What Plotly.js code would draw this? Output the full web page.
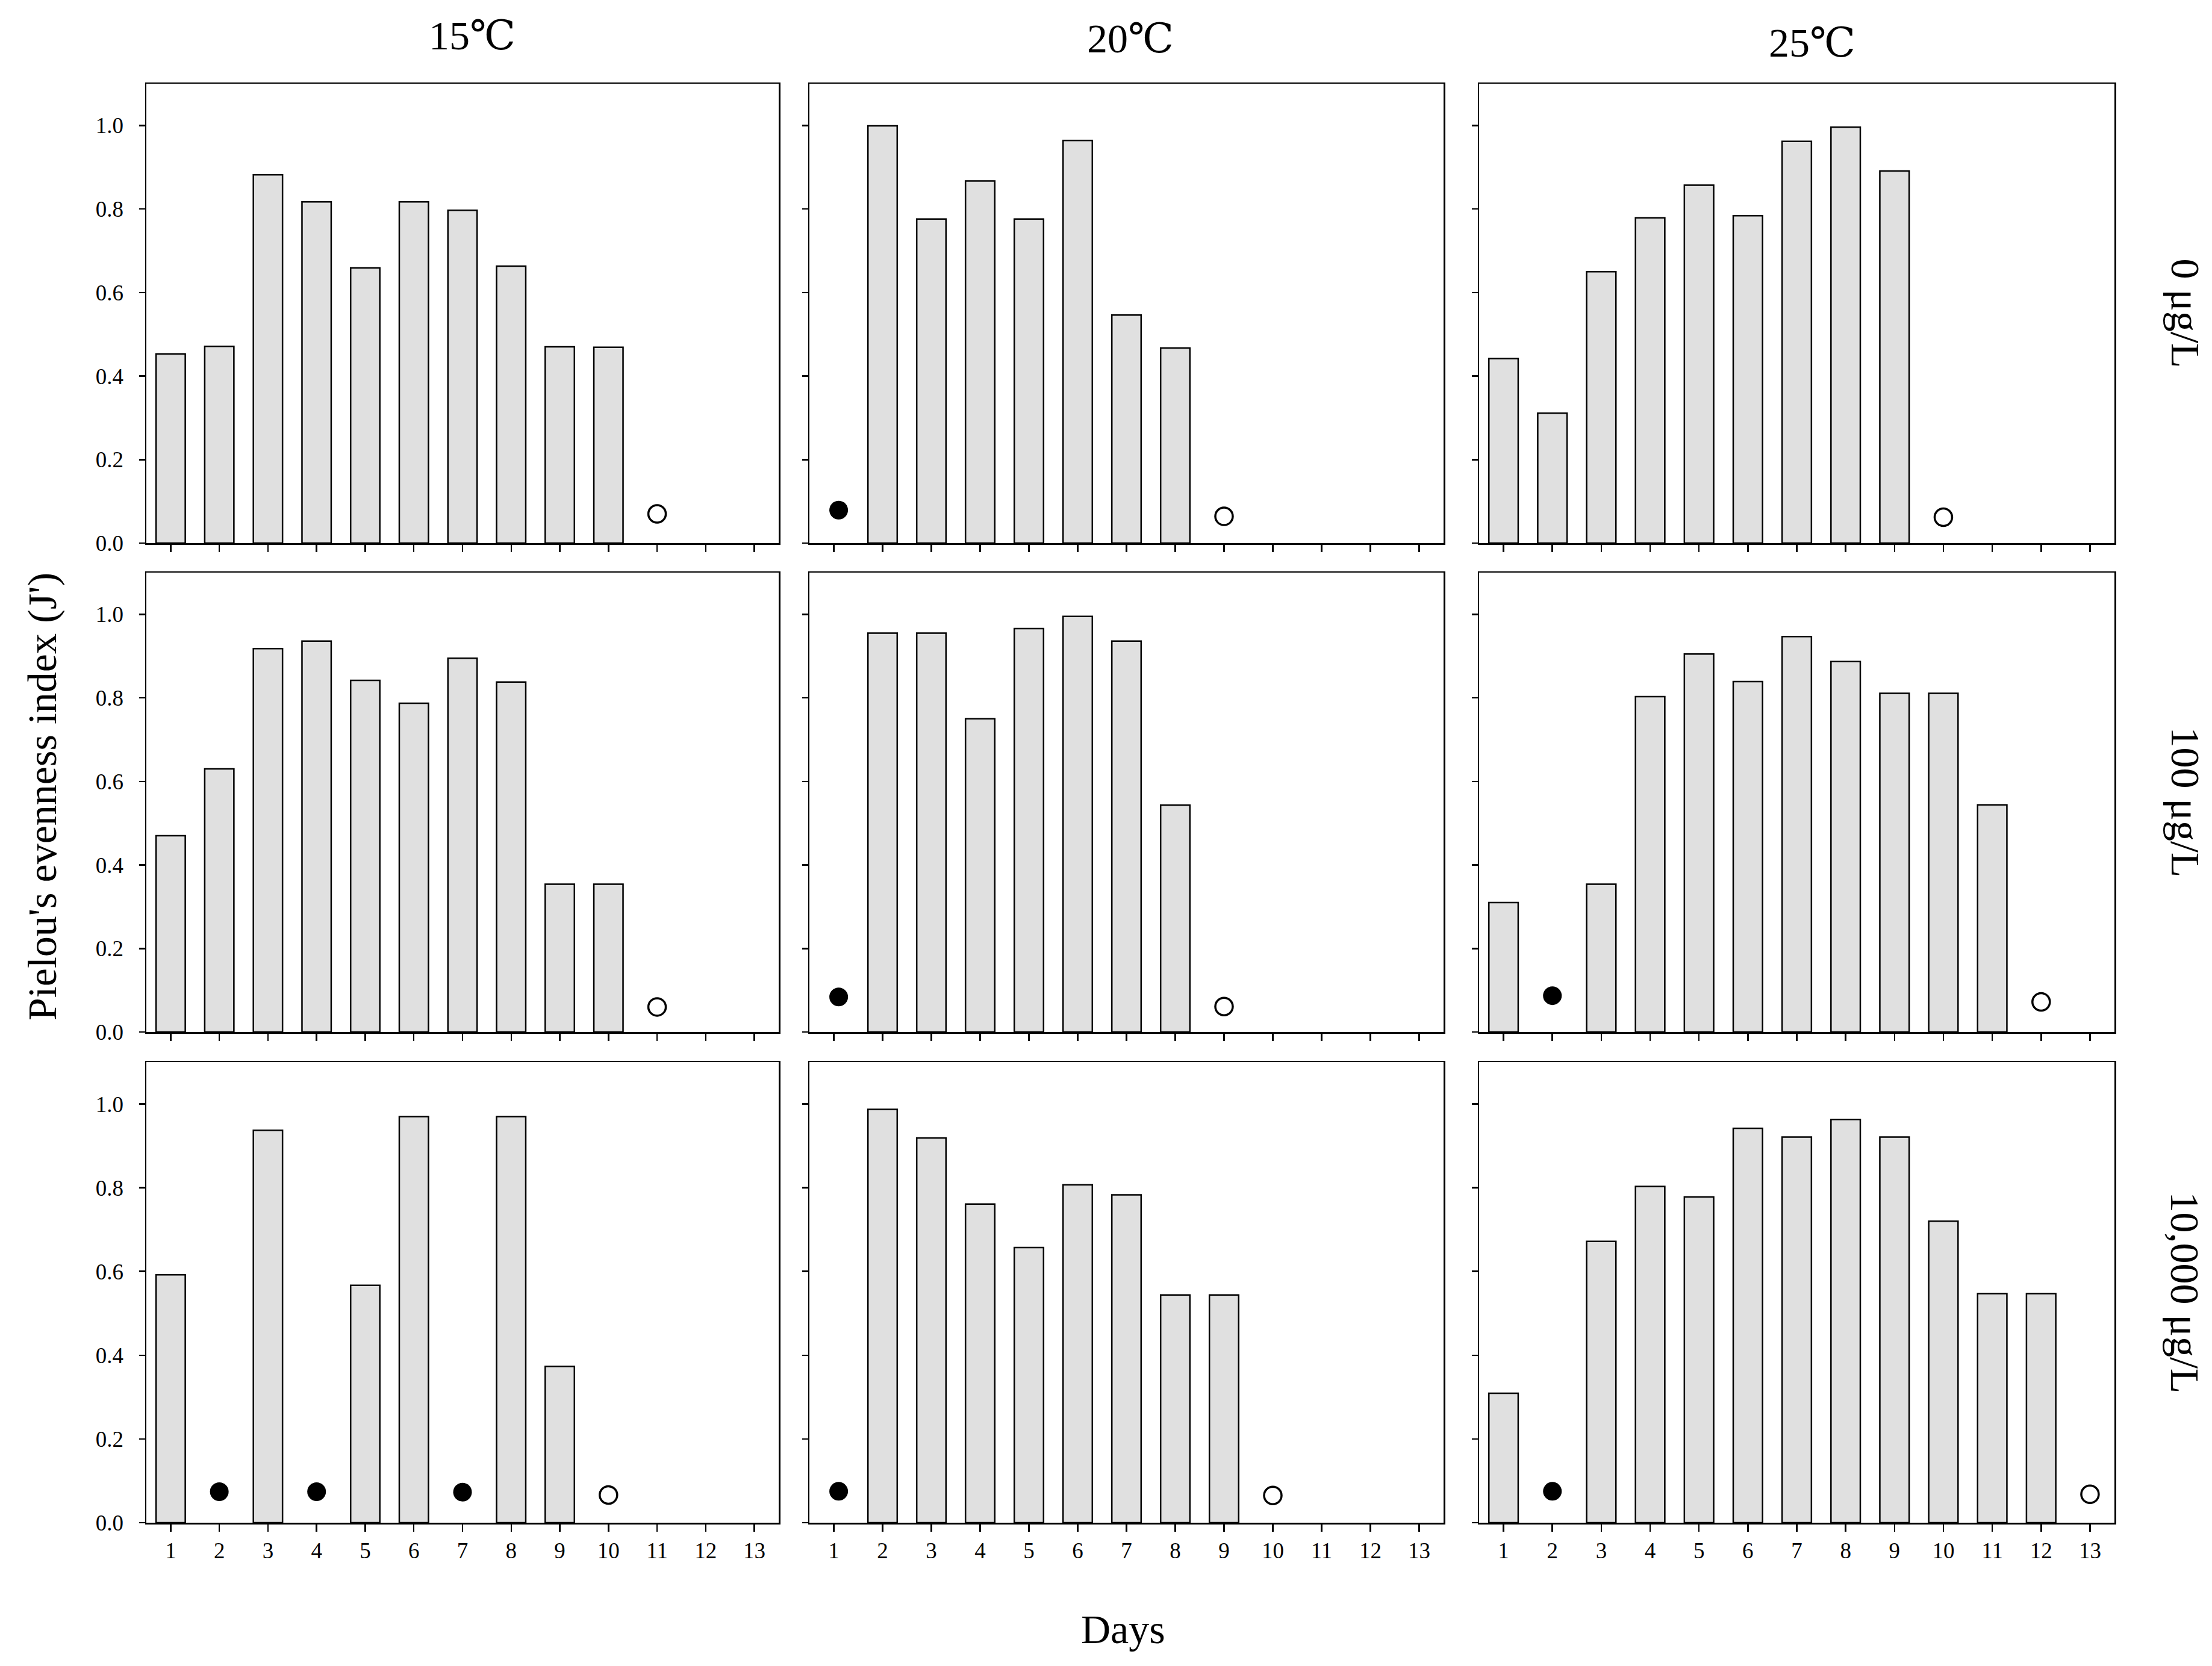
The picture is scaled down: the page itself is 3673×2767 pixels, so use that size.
<!DOCTYPE html>
<html><head><meta charset="utf-8">
<script src="https://cdn.plot.ly/plotly-3.0.1.min.js"></script>
<style>html,body{margin:0;padding:0;background:#fff}</style>
</head><body><div id="chart" style="width:3673px;height:2767px"></div>
<script>
// ---- data ----
const days = [1,2,3,4,5,6,7,8,9,10,11,12,13];
const dayLabels = ['1','2','3','4','5','6','7','8','9','10','11','12','13'];
const yTicks = [0,0.2,0.4,0.6,0.8,1.0];
const yTickLabels = ['0.0','0.2','0.4','0.6','0.8','1.0'];
const temperatures = ['15\u2103','20\u2103','25\u2103'];
const concentrations = ['0 \u03bcg/L','100 \u03bcg/L','10,000 \u03bcg/L'];

// bar values (J'), null = no bar
const bars_15C_0     = [0.453,0.471,0.882,0.817,0.659,0.817,0.797,0.663,0.470,0.469,null,null,null];
const bars_20C_0     = [null,0.999,0.776,0.867,0.776,0.964,0.546,0.467,null,null,null,null,null];
const bars_25C_0     = [0.442,0.311,0.650,0.779,0.857,0.784,0.962,0.996,0.891,null,null,null,null];
const bars_15C_100   = [0.470,0.630,0.918,0.936,0.842,0.787,0.895,0.838,0.354,0.354,null,null,null];
const bars_20C_100   = [null,0.955,0.955,0.750,0.966,0.995,0.936,0.543,null,null,null,null,null];
const bars_25C_100   = [0.310,null,0.354,0.803,0.905,0.839,0.947,0.887,0.811,0.811,0.544,null,null];
const bars_15C_10000 = [0.592,null,0.937,null,0.567,0.970,null,0.970,0.373,null,null,null,null];
const bars_20C_10000 = [null,0.987,0.919,0.761,0.657,0.807,0.783,0.544,0.544,null,null,null,null];
const bars_25C_10000 = [0.309,null,0.672,0.803,0.778,0.942,0.921,0.963,0.921,0.720,0.547,0.547,null];

// filled dots (day, value)
const filledX_15C_0 = [],  filledY_15C_0 = [];
const filledX_20C_0 = [1.1], filledY_20C_0 = [0.079];
const filledX_25C_0 = [],  filledY_25C_0 = [];
const filledX_15C_100 = [], filledY_15C_100 = [];
const filledX_20C_100 = [1.1], filledY_20C_100 = [0.084];
const filledX_25C_100 = [2], filledY_25C_100 = [0.087];
const filledX_15C_10000 = [2,4,7], filledY_15C_10000 = [0.074,0.074,0.073];
const filledX_20C_10000 = [1.1], filledY_20C_10000 = [0.075];
const filledX_25C_10000 = [2], filledY_25C_10000 = [0.075];

// open dots (day, value)
const openX_15C_0 = [11], openY_15C_0 = [0.070];
const openX_20C_0 = [9],  openY_20C_0 = [0.064];
const openX_25C_0 = [10], openY_25C_0 = [0.062];
const openX_15C_100 = [11], openY_15C_100 = [0.060];
const openX_20C_100 = [9],  openY_20C_100 = [0.061];
const openX_25C_100 = [12], openY_25C_100 = [0.072];
const openX_15C_10000 = [10], openY_15C_10000 = [0.066];
const openX_20C_10000 = [10], openY_20C_10000 = [0.065];
const openX_25C_10000 = [13], openY_25C_10000 = [0.068];

// ---- panel table (row-major) ----
const panels = [
  [bars_15C_0, filledX_15C_0, filledY_15C_0, openX_15C_0, openY_15C_0],
  [bars_20C_0, filledX_20C_0, filledY_20C_0, openX_20C_0, openY_20C_0],
  [bars_25C_0, filledX_25C_0, filledY_25C_0, openX_25C_0, openY_25C_0],
  [bars_15C_100, filledX_15C_100, filledY_15C_100, openX_15C_100, openY_15C_100],
  [bars_20C_100, filledX_20C_100, filledY_20C_100, openX_20C_100, openY_20C_100],
  [bars_25C_100, filledX_25C_100, filledY_25C_100, openX_25C_100, openY_25C_100],
  [bars_15C_10000, filledX_15C_10000, filledY_15C_10000, openX_15C_10000, openY_15C_10000],
  [bars_20C_10000, filledX_20C_10000, filledY_20C_10000, openX_20C_10000, openY_20C_10000],
  [bars_25C_10000, filledX_25C_10000, filledY_25C_10000, openX_25C_10000, openY_25C_10000]
];

const W = 3673, H = 2767;
const FONT = '"Times New Roman", "Liberation Serif", "DejaVu Serif", serif';
const colPx = [[243,1293],[1344,2397],[2456,3511]];
const rowPx = [[139,902],[951,1714],[1764,2529]];

const traces = [];
const layout = {
  width: W, height: H,
  margin: {l:0, r:0, t:0, b:0},
  paper_bgcolor: '#fff', plot_bgcolor: '#fff',
  showlegend: false,
  bargap: 0,
  font: {family: FONT, color: '#000'},
  annotations: []
};

panels.forEach((p, i) => {
  const r = Math.floor(i/3), c = i % 3;
  const s = i === 0 ? '' : String(i+1);
  const xa = 'x' + s, ya = 'y' + s;
  traces.push({
    type: 'bar', x: days, y: p[0], xaxis: xa, yaxis: ya, width: 0.6,
    marker: {color: '#e0e0e0', line: {color: '#000', width: 2.5}},
    hoverinfo: 'none'
  });
  traces.push({
    type: 'scatter', mode: 'markers', x: p[1], y: p[2], xaxis: xa, yaxis: ya,
    marker: {size: 31, color: '#000', symbol: 'circle'}, hoverinfo: 'none', cliponaxis: false
  });
  traces.push({
    type: 'scatter', mode: 'markers', x: p[3], y: p[4], xaxis: xa, yaxis: ya,
    marker: {size: 29, color: '#fff', symbol: 'circle', line: {color: '#000', width: 3.5}},
    hoverinfo: 'none', cliponaxis: false
  });
  layout['xaxis' + s] = {
    domain: [colPx[c][0]/W, colPx[c][1]/W],
    anchor: ya, range: [0.5, 13.5],
    tickmode: 'array', tickvals: days, ticktext: dayLabels,
    showticklabels: r === 2,
    ticks: 'outside', ticklen: 12, tickwidth: 2.5, tickcolor: '#000',
    showline: true, mirror: true, linecolor: '#000', linewidth: 2.5,
    showgrid: false, zeroline: false,
    tickfont: {family: FONT, size: 37, color: '#000'},
    fixedrange: true
  };
  layout['yaxis' + s] = {
    domain: [1 - rowPx[r][1]/H, 1 - rowPx[r][0]/H],
    anchor: xa, range: [0, 1.1],
    tickmode: 'array', tickvals: yTicks, ticktext: yTickLabels,
    showticklabels: c === 0,
    ticks: 'outside', ticklen: 10, tickwidth: 2.5, tickcolor: '#000',
    ticklabelstandoff: 18,
    showline: true, mirror: true, linecolor: '#000', linewidth: 2.5,
    showgrid: false, zeroline: false,
    tickfont: {family: FONT, size: 37, color: '#000'},
    fixedrange: true
  };
});

// column titles
const colTitlePos = [[784,59],[1877,64],[3009,71]];
temperatures.forEach((t, c) => {
  layout.annotations.push({
    text: t, xref: 'paper', yref: 'paper',
    x: colTitlePos[c][0]/W, y: 1 - colTitlePos[c][1]/H,
    xanchor: 'center', yanchor: 'middle', showarrow: false,
    font: {family: FONT, size: 68, color: '#000'}
  });
});
// row labels (rotated)
concentrations.forEach((t, r) => {
  layout.annotations.push({
    text: t, xref: 'paper', yref: 'paper',
    x: 3628/W, y: 1 - ((rowPx[r][0] + rowPx[r][1])/2)/H,
    xanchor: 'center', yanchor: 'middle', showarrow: false, textangle: 90,
    font: {family: FONT, size: 68, color: '#000'}
  });
});
// axis titles
layout.annotations.push({
  text: 'Days', xref: 'paper', yref: 'paper', x: 1865/W, y: 1 - 2706/H,
  xanchor: 'center', yanchor: 'middle', showarrow: false,
  font: {family: FONT, size: 68, color: '#000'}
});
layout.annotations.push({
  text: "Pielou's evenness index (J')", xref: 'paper', yref: 'paper', x: 70/W, y: 1 - 1323/H,
  xanchor: 'center', yanchor: 'middle', showarrow: false, textangle: -90,
  font: {family: FONT, size: 68, color: '#000'}
});

Plotly.newPlot('chart', traces, layout, {displayModeBar: false, staticPlot: true});
</script></body></html>
